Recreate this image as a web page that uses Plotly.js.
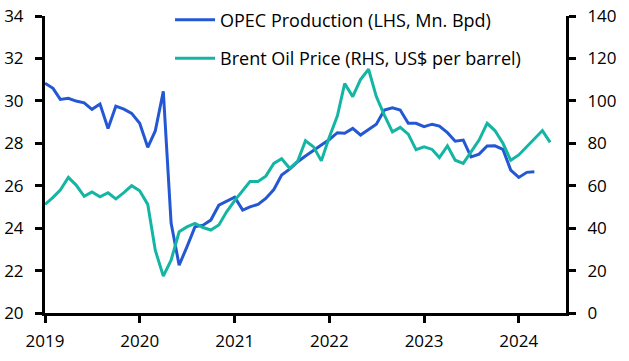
<!DOCTYPE html>
<html>
<head>
<meta charset="utf-8">
<script src="https://cdn.plot.ly/plotly-3.0.1.min.js"></script>
<style>html,body{margin:0;padding:0;background:#fff}#chart{width:629px;height:361px}</style>
</head>
<body>
<div id="chart"></div>
<script>
// OPEC production, million barrels per day (LHS), Jan 2019 - Mar 2024
const opecProduction = [
  30.83, 30.59, 30.07, 30.12, 29.99, 29.91, 29.60, 29.85, 28.70, 29.75, 29.61, 29.41,
  28.94, 27.81, 28.58, 30.45, 24.24, 22.25, 23.12, 24.06, 24.14, 24.38, 25.08, 25.27,
  25.46, 24.85, 25.00, 25.12, 25.40, 25.82, 26.50, 26.78, 27.13, 27.40, 27.68, 27.92,
  28.18, 28.50, 28.47, 28.70, 28.39, 28.65, 28.90, 29.57, 29.67, 29.57, 28.94, 28.94,
  28.78, 28.90, 28.81, 28.50, 28.10, 28.15, 27.36, 27.49, 27.87, 27.88, 27.71, 26.74,
  26.39, 26.63, 26.66
];
// Brent oil price, US$ per barrel (RHS), Jan 2019 - May 2024
const brentPrice = [
  51.2, 54.5, 58.0, 63.9, 60.3, 55.0, 57.1, 54.8, 56.7, 53.8, 56.7, 60.0,
  57.6, 51.2, 29.6, 17.4, 24.9, 38.3, 40.6, 42.2, 40.3, 39.1, 41.5, 47.7,
  53.0, 57.9, 62.0, 62.0, 64.5, 70.5, 72.7, 68.2, 71.6, 81.2, 78.3, 71.7,
  83.0, 93.0, 108.2, 102.0, 110.0, 114.9, 102.0, 93.3, 85.4, 87.5, 84.3, 77.0,
  78.3, 77.1, 73.3, 78.8, 72.0, 70.5, 76.0, 81.5, 89.4, 86.0, 80.0, 72.0,
  74.5, 78.5, 82.3, 86.0, 80.4
];
const startYear = 2019;
const tickYears = ['2019', '2020', '2021', '2022', '2023', '2024'];
const leftTicks = [20, 22, 24, 26, 28, 30, 32, 34];
const rightTicks = [0, 20, 40, 60, 80, 100, 120, 140];
const seriesNames = ['OPEC Production (LHS, Mn. Bpd)', 'Brent Oil Price (RHS, US$ per barrel)'];

function monthDates(n) {
  const out = [];
  for (let i = 0; i < n; i++) {
    const y = startYear + Math.floor(i / 12);
    const m = (i % 12) + 1;
    out.push(y + '-' + String(m).padStart(2, '0') + '-01');
  }
  return out;
}

const FONT = 'Open Sans, Noto Sans, sans-serif';
const tickFont = {family: FONT, size: 17, color: '#000'};

const traces = [
  {
    x: monthDates(opecProduction.length), y: opecProduction,
    name: seriesNames[0], type: 'scatter', mode: 'lines',
    line: {color: '#2458d3', width: 3}, yaxis: 'y', legendgroup: 'a'
  },
  {
    x: monthDates(brentPrice.length), y: brentPrice,
    name: seriesNames[1], type: 'scatter', mode: 'lines',
    line: {color: '#14b6a3', width: 3}, yaxis: 'y2', legendgroup: 'b'
  }
];

const layout = {
  width: 629, height: 361,
  margin: {l: 45, r: 63, t: 16, b: 48, autoexpand: false},
  paper_bgcolor: '#fff', plot_bgcolor: '#fff',
  font: {family: FONT, size: 17, color: '#000'},
  showlegend: true,
  legend: {
    x: 0.24, y: 1.0485, xanchor: 'left', yanchor: 'top',
    bgcolor: 'rgba(0,0,0,0)', font: {family: FONT, size: 18, color: '#000'},
    tracegroupgap: 12, itemwidth: 40, traceorder: 'grouped'
  },
  xaxis: {
    type: 'date',
    range: ['2019-01-01', '2024-07-01'],
    tickvals: tickYears.map(y => y + '-01-01'),
    ticktext: tickYears,
    showgrid: false, zeroline: false,
    showline: true, linecolor: '#000', linewidth: 3,
    ticks: 'outside', ticklen: 7, tickwidth: 3, tickcolor: '#000',
    ticklabelstandoff: 4,
    tickfont: tickFont
  },
  yaxis: {
    range: [20, 34], tickvals: leftTicks,
    showgrid: false, zeroline: false,
    showline: true, linecolor: '#000', linewidth: 3,
    ticks: 'outside', ticklen: 7, tickwidth: 3, tickcolor: '#000',
    ticklabelstandoff: 8,
    tickfont: tickFont
  },
  yaxis2: {
    range: [0, 140], tickvals: rightTicks,
    overlaying: 'y', side: 'right',
    showgrid: false, zeroline: false,
    showline: true, linecolor: '#000', linewidth: 3,
    ticks: 'outside', ticklen: 7, tickwidth: 3, tickcolor: '#000',
    ticklabelstandoff: 8,
    tickfont: tickFont
  }
};

Plotly.newPlot('chart', traces, layout, {displayModeBar: false, staticPlot: true});
</script>
</body>
</html>
